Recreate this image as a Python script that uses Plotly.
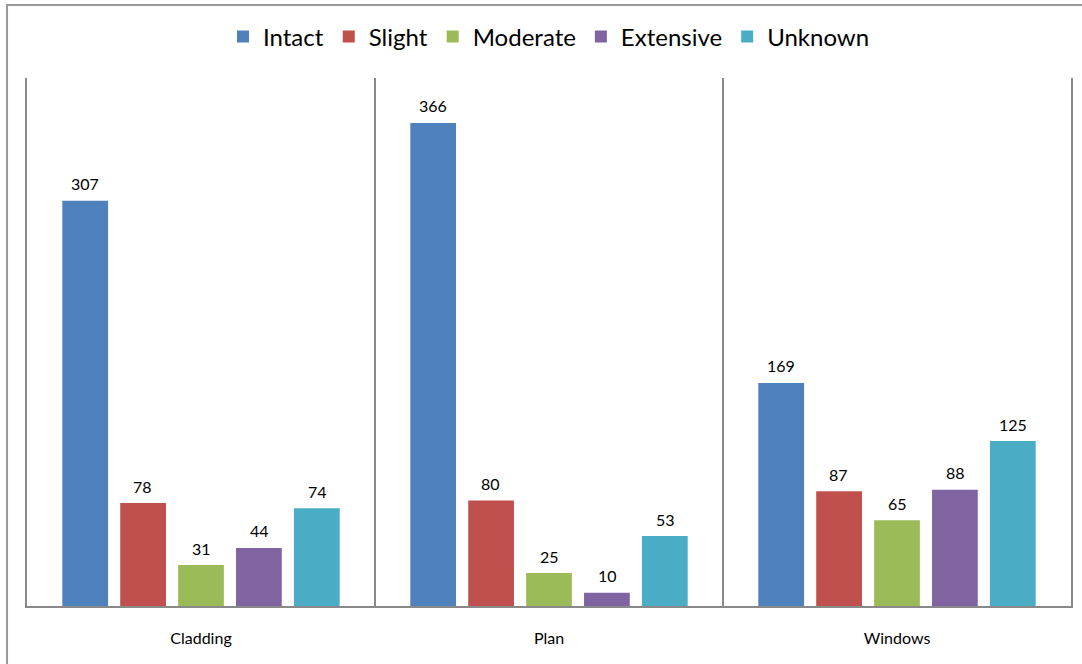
import plotly.graph_objects as go

categories = ["Cladding", "Plan", "Windows"]
intact = [307, 366, 169]
slight = [78, 80, 87]
moderate = [31, 25, 65]
extensive = [44, 10, 88]
unknown = [74, 53, 125]

series = [
    ("Intact", intact, "#4F81BD"),
    ("Slight", slight, "#C0504D"),
    ("Moderate", moderate, "#9BBB59"),
    ("Extensive", extensive, "#8064A2"),
    ("Unknown", unknown, "#4BACC6"),
]

W, H = 1082, 664
ML, MR, MT, MB = 27, 9, 78, 58
BARGAP, BARGROUPGAP = 0.168, 0.21
FONT = "Lato, Open Sans, sans-serif"

fig = go.Figure()
for name, vals, color in series:
    fig.add_trace(go.Bar(
        name=name, x=categories, y=vals,
        marker=dict(color=color, line=dict(width=0)),
        cliponaxis=False,
    ))

# data labels placed over each bar
plot_w = W - ML - MR
slot_px = (1 - BARGAP) / len(series) * plot_w / len(categories)
annotations = []
for k, (name, vals, color) in enumerate(series):
    off = (k - (len(series) - 1) / 2) * slot_px
    for cat, v in zip(categories, vals):
        annotations.append(dict(
            x=cat, y=v, xref="x", yref="y", text=str(v), showarrow=False,
            xshift=off, yshift=17, yanchor="middle",
            font=dict(size=16, color="black", family=FONT),
        ))

fig.update_layout(
    width=W, height=H,
    margin=dict(l=ML, r=MR, t=MT, b=MB),
    paper_bgcolor="white", plot_bgcolor="white",
    barmode="group", bargap=BARGAP, bargroupgap=BARGROUPGAP,
    font=dict(family=FONT, color="black"),
    legend=dict(orientation="h", x=0.5, xanchor="center", y=1.078, yanchor="middle",
                font=dict(size=24), itemwidth=30, traceorder="normal"),
    showlegend=True,
    xaxis=dict(showline=True, linecolor="#898989", linewidth=2, tickson="boundaries",
               showgrid=True, gridcolor="#898989", gridwidth=2, ticks="",
               tickfont=dict(size=16), ticklabelstandoff=17),
    yaxis=dict(range=[0, 400], showline=True, linecolor="#898989", linewidth=2,
               mirror=True, showgrid=False, showticklabels=False, ticks="", zeroline=False),
    annotations=annotations,
    shapes=[dict(type="rect", xref="paper", yref="paper",
                 x0=-(ML - 7) / plot_w, x1=1.05, y0=-0.2, y1=1 + (MT - 5) / (H - MT - MB),
                 line=dict(color="#999999", width=2), layer="below")],
)

fig.write_html("out.html", config={"displayModeBar": False},
               post_script="document.body.style.margin='0';")
